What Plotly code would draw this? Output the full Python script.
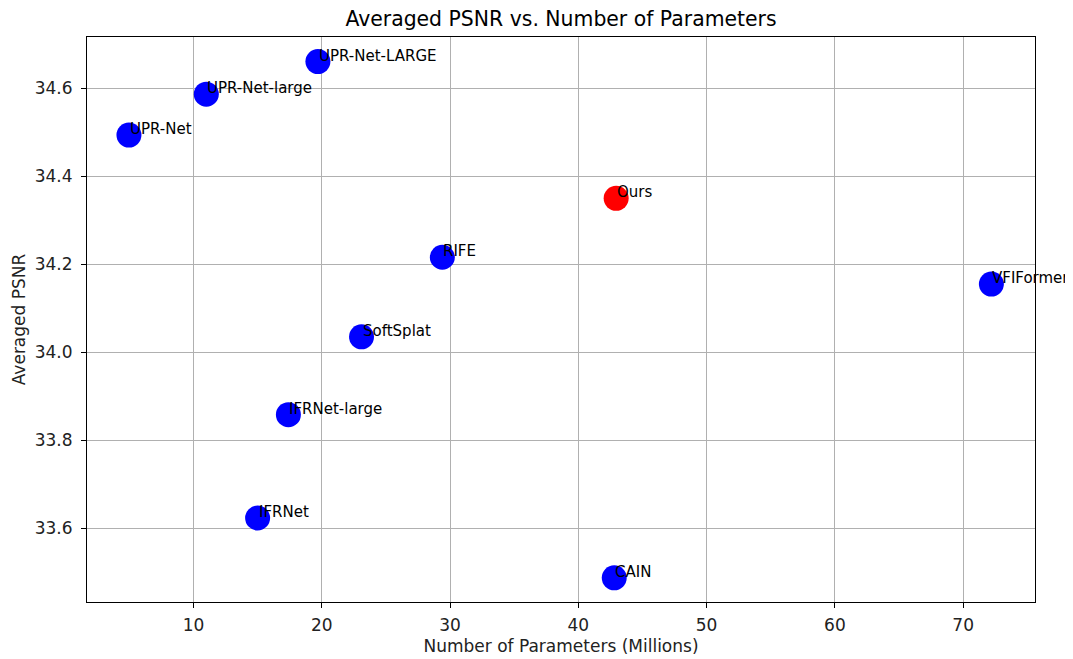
import plotly.graph_objects as go

methods = ["UPR-Net", "UPR-Net-large", "UPR-Net-LARGE", "Ours", "VFIFormer", "RIFE",
           "SoftSplat", "IFRNet-large", "IFRNet", "CAIN"]
params = [4.97, 11.0, 19.7, 42.95, 72.2, 29.4, 23.1, 17.4, 15.0, 42.8]
psnr = [34.494, 34.587, 34.661, 34.350, 34.155, 34.216, 34.035, 33.858, 33.623, 33.487]
colors = ["blue", "blue", "blue", "red", "blue", "blue", "blue", "blue", "blue", "blue"]

font = "DejaVu Sans"

fig = go.Figure()
fig.add_trace(go.Scatter(
    x=params, y=psnr, mode="markers",
    marker=dict(size=25, color=colors, line=dict(width=0)),
    showlegend=False,
))

for m, xv, yv in zip(methods, params, psnr):
    fig.add_annotation(
        x=xv, y=yv, text=m, showarrow=False,
        xanchor="left", yanchor="bottom", xshift=-1, yshift=-5,
        font=dict(family=font, size=15, color="black"),
    )

axis_common = dict(
    showline=True, linecolor="black", linewidth=1, mirror=True,
    showgrid=True, gridcolor="#b0b0b0", gridwidth=1,
    ticks="outside", ticklen=5, tickcolor="black", tickwidth=1,
    zeroline=False,
    tickfont=dict(family=font, size=17, color="#222"),
)

fig.update_layout(
    width=1073, height=659,
    margin=dict(l=79, r=46, t=29, b=65),
    paper_bgcolor="white", plot_bgcolor="white",
    title=dict(text="Averaged PSNR vs. Number of Parameters", x=0.5, xref="paper",
               xanchor="center",
               y=1 - 11 / 659, yanchor="middle",
               font=dict(family=font, size=20.4, color="black")),
    xaxis=dict(range=[1.7, 75.6], tickvals=[10, 20, 30, 40, 50, 60, 70],
               ticklabelstandoff=3,
               title=dict(text="Number of Parameters (Millions)", standoff=5,
                          font=dict(family=font, size=17, color="#222")),
               **axis_common),
    yaxis=dict(range=[33.432, 34.717], tickvals=[33.6, 33.8, 34.0, 34.2, 34.4, 34.6],
               tickformat=".1f", ticklabelstandoff=5,
               title=dict(text="Averaged PSNR", standoff=4,
                          font=dict(family=font, size=17, color="#222")),
               **axis_common),
)

fig.write_html("out.html")
